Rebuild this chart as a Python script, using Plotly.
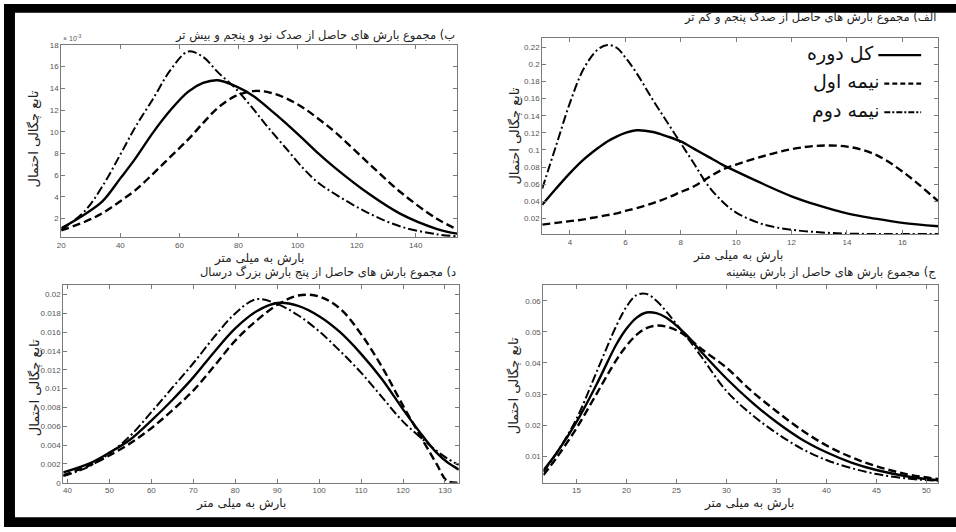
import plotly.graph_objects as go

# ---------------- data ----------------
# Panel "الف" (top right)
x_alef = [3.0, 3.5, 4, 4.5, 5, 5.35, 5.7, 6, 6.4, 7, 7.5, 8, 8.5, 9, 9.5, 10, 11, 12, 13, 14, 15, 16, 17.3]
alef_total = [0.036, 0.055, 0.073, 0.089, 0.102, 0.110, 0.116, 0.120, 0.123, 0.121, 0.116, 0.110, 0.101, 0.092, 0.083, 0.075, 0.060, 0.046, 0.035, 0.026, 0.020, 0.015, 0.011]
alef_first = [0.013, 0.015, 0.017, 0.019, 0.022, 0.024, 0.026, 0.029, 0.032, 0.038, 0.044, 0.051, 0.058, 0.068, 0.077, 0.083, 0.093, 0.101, 0.105, 0.104, 0.095, 0.075, 0.040]
alef_second = [0.055, 0.105, 0.155, 0.195, 0.217, 0.2225, 0.219, 0.208, 0.190, 0.158, 0.133, 0.108, 0.083, 0.058, 0.040, 0.027, 0.013, 0.007, 0.004, 0.0025, 0.002, 0.002, 0.002]

# Panel "ب" (top left), values in units of 1e-3
x_be = [20, 28, 34, 40, 45, 51, 57, 63, 68, 73, 79, 85, 90, 96, 102, 107, 113, 124, 135, 147, 154]
be_total = [1.1, 2.4, 3.6, 5.7, 7.5, 9.9, 12.0, 13.7, 14.5, 14.75, 14.2, 13.3, 12.2, 10.8, 9.3, 8.0, 6.6, 4.3, 2.4, 1.05, 0.6]
be_first = [0.9, 1.7, 2.5, 3.6, 4.6, 6.1, 7.7, 9.3, 10.8, 12.2, 13.3, 13.75, 13.65, 13.1, 12.2, 11.2, 9.9, 7.1, 4.4, 2.0, 1.0]
be_second = [0.95, 2.7, 5.0, 7.9, 10.4, 13.0, 15.7, 17.4, 16.9, 15.5, 14.0, 12.1, 10.4, 8.5, 6.6, 5.3, 4.2, 2.5, 1.25, 0.55, 0.35]

# Panel "د" (bottom left)
x_dal = [39, 45, 50, 55, 60, 65, 70, 75, 80, 85, 90, 95, 100, 105, 110, 115, 120, 125, 128, 130.5, 133.3]
dal_total = [0.0011, 0.0020, 0.0032, 0.0046, 0.0066, 0.0088, 0.0112, 0.0139, 0.0164, 0.0182, 0.0191, 0.0188, 0.0177, 0.0160, 0.0137, 0.0110, 0.0078, 0.0048, 0.0032, 0.0022, 0.0014]
dal_first = [0.0008, 0.0018, 0.0029, 0.0042, 0.0058, 0.0077, 0.0098, 0.0124, 0.0151, 0.0172, 0.0189, 0.0199, 0.0198, 0.0185, 0.0158, 0.0123, 0.0082, 0.0043, 0.0020, 0.0002, 0.0]
dal_second = [0.0007, 0.0017, 0.0031, 0.0050, 0.0075, 0.0101, 0.0127, 0.0155, 0.0180, 0.0195, 0.0190, 0.0178, 0.0161, 0.0140, 0.0117, 0.0091, 0.0065, 0.0045, 0.0034, 0.0026, 0.0019]

# Panel "ج" (bottom right)
x_jim = [11.7, 13, 15, 17, 19, 20, 21, 22, 23, 24, 25, 26, 27.5, 30, 32.5, 35, 37.5, 40, 42.5, 45, 48, 51.2]
jim_total = [0.0055, 0.011, 0.021, 0.033, 0.046, 0.051, 0.0545, 0.0562, 0.0560, 0.0545, 0.0520, 0.049, 0.0435, 0.035, 0.0275, 0.021, 0.0155, 0.0113, 0.008, 0.0056, 0.0036, 0.0023]
jim_first = [0.004, 0.0095, 0.019, 0.030, 0.041, 0.0455, 0.049, 0.0512, 0.052, 0.0517, 0.0505, 0.0485, 0.0445, 0.0385, 0.031, 0.0245, 0.0185, 0.0135, 0.0097, 0.0068, 0.0043, 0.0027]
jim_second = [0.005, 0.011, 0.022, 0.037, 0.052, 0.058, 0.0618, 0.0622, 0.060, 0.0565, 0.0525, 0.0485, 0.042, 0.031, 0.0235, 0.0175, 0.0125, 0.0088, 0.0062, 0.0043, 0.0029, 0.0021]

series_names = ["کل دوره", "نیمه اول", "نیمه دوم"]
titles = [
    "ب) مجموع بارش های حاصل از صدک نود و پنجم و بیش تر",
    "الف) مجموع بارش های حاصل از صدک پنجم و کم تر",
    "د) مجموع بارش های حاصل از پنج بارش بزرگ درسال",
    "ج) مجموع بارش های حاصل از بارش بیشینه",
]
x_title = "بارش به میلی متر"
y_title = "تابع چگالی احتمال"

# ---------------- figure ----------------
W, H = 956, 532
FA = "DejaVu Sans"
FT = "Liberation Sans"

dash_styles = ["solid", "8px,4px", "9px,3px,2px,3px"]
widths = [2.4, 2.4, 2.0]

fig = go.Figure()
panels = [
    ("x", "y", x_be, [be_total, be_first, be_second]),
    ("x2", "y2", x_alef, [alef_total, alef_first, alef_second]),
    ("x3", "y3", x_dal, [dal_total, dal_first, dal_second]),
    ("x4", "y4", x_jim, [jim_total, jim_first, jim_second]),
]
for xa, ya, xs, ser in panels:
    for i, vals in enumerate(ser):
        fig.add_trace(go.Scatter(
            x=xs, y=vals, xaxis=xa, yaxis=ya, mode="lines",
            line=dict(color="black", width=widths[i], dash=dash_styles[i], shape="spline", smoothing=1.0),
            name=series_names[i], showlegend=False))

def px_x(p):
    return p / W

def px_y(p):
    return 1 - p / H

axis_common = dict(showline=True, linecolor="#7a7a7a", linewidth=1, mirror="allticks",
                   ticks="inside", ticklen=4, tickcolor="#7a7a7a", showgrid=False, zeroline=False,
                   tickfont=dict(family=FT, size=8, color="#555"))

boxes = {
    "1": dict(xd=[px_x(57.5), px_x(455)], yd=[px_y(237.5), px_y(41.7)], xr=[20, 154], yr=[0.25, 18], xt=20, yt=2),
    "2": dict(xd=[px_x(540.5), px_x(938.3)], yd=[px_y(234.3), px_y(34.3)], xr=[3.0, 17.3], yr=[0.0016, 0.231], xt=2, yt=0.02),
    "3": dict(xd=[px_x(59.5), px_x(456.7)], yd=[px_y(487), px_y(286)], xr=[39, 133.3], yr=[0, 0.021], xt=10, yt=0.002),
    "4": dict(xd=[px_x(541.7), px_x(938.3)], yd=[px_y(487), px_y(286)], xr=[11.7, 51.2], yr=[0.0015, 0.065], xt=5, yt=0.01),
}
layout_axes = {}
for k, b in boxes.items():
    xn = "xaxis" if k == "1" else f"xaxis{k}"
    yn = "yaxis" if k == "1" else f"yaxis{k}"
    xa = "x" if k == "1" else f"x{k}"
    ya = "y" if k == "1" else f"y{k}"
    layout_axes[xn] = dict(domain=b["xd"], range=b["xr"], anchor=ya, dtick=b["xt"], tick0=0, **axis_common)
    layout_axes[yn] = dict(domain=b["yd"], range=b["yr"], anchor=xa, dtick=b["yt"], tick0=0, **axis_common)

fig.update_layout(**layout_axes)

ann = []
# panel titles
title_pos = [(455, 32), (938, 14), (456, 273), (938, 273)]
for t, (xp, yp) in zip(titles, title_pos):
    ann.append(dict(text=t, x=px_x(xp), y=px_y(yp), xref="paper", yref="paper", xanchor="right", yanchor="middle",
                    showarrow=False, font=dict(family=FA, size=11.5, color="#222")))
# x titles
for xp, yp in [(256, 259), (737, 256), (238, 508), (748, 508)]:
    ann.append(dict(text=x_title, x=px_x(xp), y=px_y(yp), xref="paper", yref="paper", xanchor="center", yanchor="middle",
                    showarrow=False, font=dict(family=FA, size=12, color="#222")))
# y titles
for xp, yp in [(30, 137), (513, 134), (32, 390), (513, 388)]:
    ann.append(dict(text=y_title, x=px_x(xp), y=px_y(yp), xref="paper", yref="paper", xanchor="center", yanchor="middle",
                    textangle=-90, showarrow=False, font=dict(family=FA, size=13, color="#222")))
# exponent label
ann.append(dict(text="× 10<sup>-3</sup>", x=px_x(57), y=px_y(35), xref="paper", yref="paper", xanchor="left", yanchor="middle",
                showarrow=False, font=dict(family=FT, size=7, color="#555")))

# legend (RTL: text left of line sample)
leg_rows = [52, 81, 110]
shapes = []
for i, yp in enumerate(leg_rows):
    x0 = 878 if i == 0 else 884
    shapes.append(dict(type="line", xref="paper", yref="paper", x0=px_x(x0), x1=px_x(921), y0=px_y(yp), y1=px_y(yp),
                       line=dict(color="black", width=2.4 if i < 2 else 2.0, dash=["solid", "5px,3px", "6px,2px,2px,2px"][i])))
    ann.append(dict(text=series_names[i], x=px_x(x0 - 2), y=px_y(yp - 2), xref="paper", yref="paper", xanchor="right", yanchor="middle",
                    showarrow=False, font=dict(family=FA, size=19, color="#111")))

# black frame
shapes += [
    dict(type="rect", xref="paper", yref="paper", x0=0, x1=px_x(11), y0=0, y1=1, fillcolor="black", line=dict(width=0), layer="above"),
    dict(type="rect", xref="paper", yref="paper", x0=0, x1=1, y0=px_y(9), y1=1, fillcolor="black", line=dict(width=0), layer="above"),
    dict(type="rect", xref="paper", yref="paper", x0=0, x1=1, y0=0, y1=px_y(522), fillcolor="black", line=dict(width=0), layer="above"),
]

fig.update_layout(width=W, height=H, margin=dict(l=0, r=0, t=0, b=0), paper_bgcolor="white", plot_bgcolor="white",
                  annotations=ann, shapes=shapes, showlegend=False)

fig.write_html("out.html", config={"displayModeBar": False},
               post_script="document.body.style.margin='0';document.body.style.overflow='hidden';")
